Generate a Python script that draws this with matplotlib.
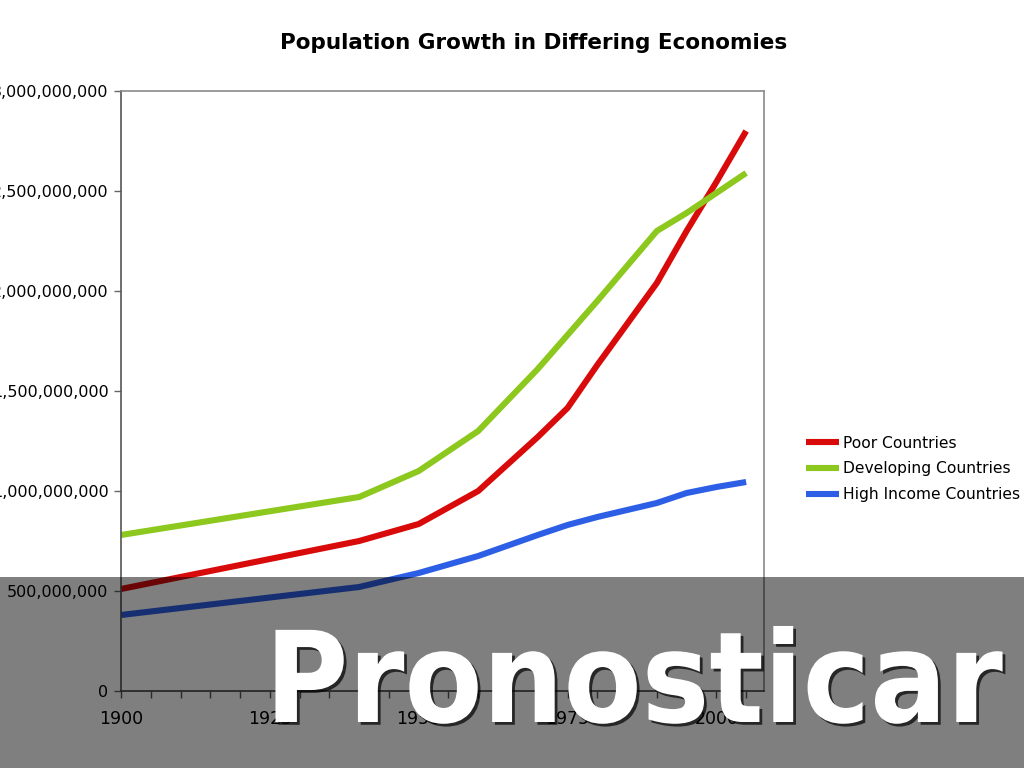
import matplotlib
matplotlib.use("Agg")
import matplotlib.pyplot as plt
import matplotlib.patheffects as pe
from matplotlib.patches import Rectangle

# ---------------------- DATA ---------------------- #
years = [1900, 1940, 1950, 1960, 1970, 1975, 1980, 1990, 1995, 2000, 2005]
poor = [510, 750, 835, 1000, 1270, 1415, 1630, 2040, 2300, 2545, 2800]
developing = [780, 970, 1100, 1300, 1610, 1780, 1950, 2300, 2390, 2490, 2590]
high_income = [380, 520, 590, 675, 780, 830, 870, 940, 990, 1020, 1045]
series_names = ["Poor Countries", "Developing Countries", "High Income Countries"]
y_ticks = [0, 500000000, 1000000000, 1500000000, 2000000000, 2500000000, 3000000000]
x_labels = [1900, 1925, 1950, 1975, 2000]

MILLION = 1000000
colors = ["#d80a0a", "#8cc81e", "#2d5fe6"]

plt.rcParams["font.family"] = "DejaVu Sans"

fig = plt.figure(figsize=(10.24, 7.68), dpi=100)
ax = fig.add_axes([121 / 1024, 77 / 768, 643 / 1024, 600 / 768])

for name, values, color in zip(series_names, [poor, developing, high_income], colors):
    ax.plot(years, [v * MILLION for v in values], color=color, linewidth=4.4,
            solid_capstyle="butt", label=name)

ax.set_xlim(1900, 2008)
ax.set_ylim(0, 3000000000)
ax.set_yticks(y_ticks)
ax.set_yticklabels([f"{v:,}" for v in y_ticks], fontsize=11.5)
tick_years = list(range(1900, 2006, 5))
ax.set_xticks(tick_years)
ax.set_xticklabels([str(y) if y in x_labels else "" for y in tick_years], fontsize=12.5)
ax.tick_params(axis="y", direction="out", length=5, width=1, color="#666666", pad=4)
ax.tick_params(axis="x", direction="out", length=5, width=1, color="#555555", pad=9)

for side in ["top", "right"]:
    ax.spines[side].set_color("#8a8a8a")
ax.spines["left"].set_color("#555555")
ax.spines["bottom"].set_color("#444444")
for sp in ax.spines.values():
    sp.set_linewidth(1.2)

fig.text(534 / 1024, (768 - 43) / 768, "Population Growth in Differing Economies",
         ha="center", va="center", fontsize=15.5, fontweight="bold")

fig.legend(loc="center left", bbox_to_anchor=(806 / 1024, (768 - 469) / 768),
           frameon=False, fontsize=11.2, handlelength=2.1, handletextpad=0.3,
           labelspacing=0.68, borderpad=0, borderaxespad=0)

# semi-transparent band with the overlay word
fig.add_artist(Rectangle((0, 0), 1, (768 - 577) / 768, transform=fig.transFigure,
                         facecolor="black", alpha=0.5, edgecolor="none", zorder=5))
word = fig.text(634 / 1024, (768 - 722) / 768, "Pronosticar", ha="center", va="baseline",
                fontsize=100, fontweight="heavy", fontstretch="condensed", color="white", zorder=6)

# size the word so it spans the same width as in the original (~738 px)
renderer = fig.canvas.get_renderer()
w = word.get_window_extent(renderer).width
word.set_fontsize(100 * 738 / w)
word.set_path_effects([pe.withSimplePatchShadow(offset=(2, -2), shadow_rgbFace="black", alpha=0.7)])

fig.savefig("out.png", dpi=100)
